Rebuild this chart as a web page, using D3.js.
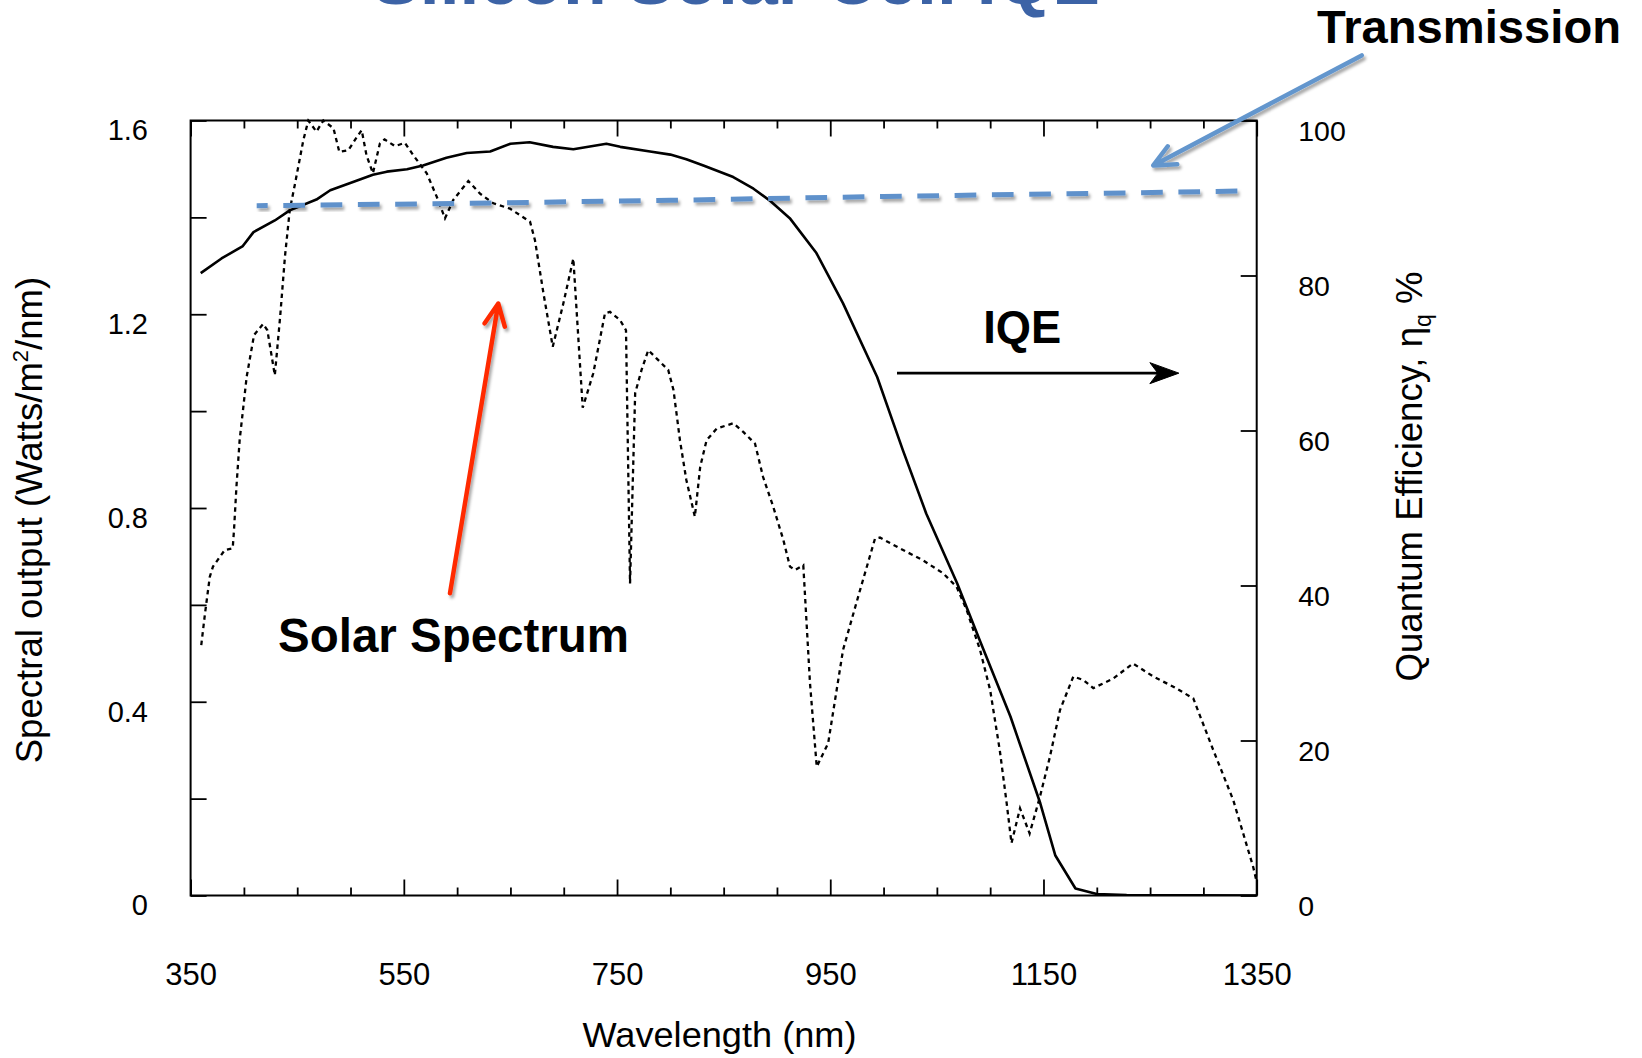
<!DOCTYPE html>
<html>
<head>
<meta charset="utf-8">
<script src="https://cdn.jsdelivr.net/npm/d3@7"></script>
<style>
  html, body { margin: 0; padding: 0; background: #fff; }
  svg { display: block; }
  text { font-family: "Liberation Sans", Arial, Helvetica, sans-serif; }
</style>
</head>
<body>
<svg id="chart" width="1642" height="1058"></svg>
<script>
// ---------------- DATA ----------------
const wavelengthMajorTicks = [350, 550, 750, 950, 1150, 1350];
const wavelengthMinorTicks = [400, 450, 500, 600, 650, 700, 800, 850, 900, 1000, 1050, 1100, 1200, 1250, 1300];
const spectralTicks = [0, 0.2, 0.4, 0.6, 0.8, 1.0, 1.2, 1.4, 1.6];
const spectralTickLabels = ["0", "", "0.4", "", "0.8", "", "1.2", "", "1.6"];
const qeTicks = [0, 20, 40, 60, 80, 100];
const qeTickLabels = ["0", "20", "40", "60", "80", "100"];

// Solar spectrum (W/m^2/nm), dotted line, left axis
const solarWavelength = [360, 363.5, 368, 371, 382, 389.5, 390.7, 393, 396, 402.6, 409.5, 418, 422, 429, 434, 438.5,
  443, 448, 455.7, 460.4, 468, 474.5, 484, 489.5, 498, 506, 510.5, 515, 521, 527.6, 532, 541.7, 551, 559, 571.5,
  581, 588.6, 596.4, 610.5, 621.5, 634, 649.6, 668.4, 673, 681, 689.7, 699.6, 709, 717.8, 727.7, 738.7, 743.4,
  752.8, 758.4, 762.2, 765.3, 767, 773, 779.3, 787, 798, 803, 809, 815, 823, 828, 834, 843.5, 859, 868.4, 879.4,
  887, 896.6, 906, 912.2, 917, 924.7, 931, 937.3, 948, 962, 978, 992, 996.6, 1015, 1037, 1056, 1068.6, 1078,
  1090.5, 1100, 1109, 1115.5, 1120, 1128, 1137, 1146.7, 1156, 1165.5, 1178, 1187.4, 1196.7, 1215.5, 1234, 1253,
  1271.8, 1290.5, 1309.3, 1328, 1346.7, 1350];
const solarIrradiance = [0.517, 0.582, 0.658, 0.679, 0.713, 0.717, 0.754, 0.844, 0.940, 1.071, 1.157, 1.180, 1.167,
  1.074, 1.195, 1.319, 1.415, 1.470, 1.559, 1.600, 1.577, 1.600, 1.584, 1.535, 1.539, 1.566, 1.580, 1.528, 1.491,
  1.553, 1.561, 1.547, 1.554, 1.528, 1.491, 1.442, 1.398, 1.436, 1.475, 1.449, 1.429, 1.418, 1.391, 1.353, 1.243,
  1.133, 1.222, 1.315, 1.007, 1.078, 1.202, 1.205, 1.188, 1.167, 0.644, 0.899, 1.037, 1.085, 1.126, 1.109, 1.085,
  1.043, 0.940, 0.858, 0.782, 0.885, 0.940, 0.964, 0.975, 0.957, 0.933, 0.864, 0.802, 0.734, 0.679, 0.672, 0.682,
  0.438, 0.266, 0.314, 0.507, 0.631, 0.737, 0.739, 0.717, 0.692, 0.665, 0.637, 0.589, 0.507, 0.424, 0.300, 0.190,
  0.108, 0.180, 0.128, 0.204, 0.286, 0.383, 0.452, 0.445, 0.428, 0.448, 0.479, 0.452, 0.431, 0.407, 0.300, 0.197,
  0.059, 0.028];

// Internal quantum efficiency (%), solid line, right axis
const iqeWavelength = [359.5, 379, 399, 409, 429, 443, 468, 481, 503, 521, 534, 553, 568, 590, 609, 631, 650, 668,
  690, 709, 740, 753, 781, 800, 815, 831, 859, 878, 893, 912, 937, 962, 994, 1018, 1040, 1069, 1090, 1119, 1147,
  1161, 1180, 1200, 1228, 1350];
const iqePercent = [80.3, 82.2, 83.8, 85.6, 87.1, 88.4, 89.8, 91.0, 92.1, 93.0, 93.4, 93.7, 94.2, 95.2, 95.8, 96.0,
  97.0, 97.2, 96.6, 96.3, 97.0, 96.6, 96.0, 95.6, 95.0, 94.2, 92.7, 91.2, 89.7, 87.4, 82.9, 76.4, 66.9, 57.5, 49.3,
  40.3, 33.0, 23.1, 11.9, 5.2, 0.9, 0.2, 0.05, 0];

// Transmission (%), blue dashed line, right axis
const transmissionWavelength = [412, 600, 800, 1000, 1200, 1336];
const transmissionPercent = [89.0, 89.3, 89.7, 90.2, 90.6, 90.9];

// ---------------- CHART ----------------
const svg = d3.select("#chart");
const PL = 190.6, PR = 1256.7, PT = 120.5, PB = 895.5;

const x = d3.scaleLinear().domain([350, 1350]).range([PL, PR]);
const yL = d3.scaleLinear().domain([0, 1.6]).range([PB, PT]);
const yR = d3.scaleLinear().domain([0, 100]).range([PB, PT]);

const defs = svg.append("defs");
const sh = defs.append("filter").attr("id", "shadow")
  .attr("x", "-20%").attr("y", "-20%").attr("width", "140%").attr("height", "160%");
sh.append("feDropShadow").attr("dx", 2).attr("dy", 3).attr("stdDeviation", 1.8)
  .attr("flood-color", "#000").attr("flood-opacity", 0.35);

// Title (mostly cut off at the top, as in the original slide)
svg.append("text")
  .attr("x", 736).attr("y", 4)
  .attr("text-anchor", "middle")
  .attr("font-size", 70).attr("font-weight", "bold")
  .attr("fill", "#3c63a6")
  .attr("textLength", 728).attr("lengthAdjust", "spacingAndGlyphs")
  .text("Silicon Solar Cell IQE");

// axes
function styleAxis(g) {
  g.select(".domain").remove();
  g.selectAll(".tick line").attr("stroke", "#000").attr("stroke-width", 1.8);
}

// bottom
svg.append("g").attr("transform", `translate(0,${PB})`)
  .call(d3.axisBottom(x).tickValues(wavelengthMinorTicks).tickSize(-8).tickFormat(""))
  .call(styleAxis);
svg.append("g").attr("transform", `translate(0,${PB})`)
  .call(d3.axisBottom(x).tickValues(wavelengthMajorTicks).tickSize(-16).tickPadding(67).tickFormat(d3.format("d")))
  .call(styleAxis)
  .call(g => g.selectAll("text").attr("font-size", 31).attr("fill", "#000")
    .attr("font-family", "'Liberation Sans', Arial, sans-serif"));
// top
svg.append("g").attr("transform", `translate(0,${PT})`)
  .call(d3.axisTop(x).tickValues(wavelengthMinorTicks).tickSize(-8).tickFormat(""))
  .call(styleAxis);
svg.append("g").attr("transform", `translate(0,${PT})`)
  .call(d3.axisTop(x).tickValues(wavelengthMajorTicks).tickSize(-16).tickFormat(""))
  .call(styleAxis);
// left
svg.append("g").attr("transform", `translate(${PL},0)`)
  .call(d3.axisLeft(yL).tickValues(spectralTicks).tickSize(-16).tickPadding(42.6)
    .tickFormat((d, i) => spectralTickLabels[i]))
  .call(styleAxis)
  .call(g => g.selectAll("text").attr("font-size", 29).attr("fill", "#000").attr("y", 10)
    .attr("font-family", "'Liberation Sans', Arial, sans-serif"));
// right
svg.append("g").attr("transform", `translate(${PR},0)`)
  .call(d3.axisRight(yR).tickValues(qeTicks).tickSize(-16).tickPadding(41.5)
    .tickFormat((d, i) => qeTickLabels[i]))
  .call(styleAxis)
  .call(g => g.selectAll("text").attr("font-size", 28.5).attr("fill", "#000").attr("y", 11)
    .attr("font-family", "'Liberation Sans', Arial, sans-serif"));

// frame
svg.append("rect").attr("x", PL).attr("y", PT).attr("width", PR - PL).attr("height", PB - PT)
  .attr("fill", "none").attr("stroke", "#000").attr("stroke-width", 2);

// clip
defs.append("clipPath").attr("id", "plotclip").append("rect")
  .attr("x", PL).attr("y", PT - 2).attr("width", PR - PL).attr("height", PB - PT + 2);

const plot = svg.append("g").attr("clip-path", "url(#plotclip)");

// solar spectrum
const solarData = solarWavelength.map((w, i) => [w, solarIrradiance[i]]);
plot.append("path")
  .datum(solarData)
  .attr("fill", "none").attr("stroke", "#000").attr("stroke-width", 2.3)
  .attr("stroke-dasharray", "4.5,4")
  .attr("d", d3.line().x(d => x(d[0])).y(d => yL(d[1])));

// IQE
const iqeData = iqeWavelength.map((w, i) => [w, iqePercent[i]]);
plot.append("path")
  .datum(iqeData)
  .attr("fill", "none").attr("stroke", "#000").attr("stroke-width", 2.6)
  .attr("stroke-linejoin", "round")
  .attr("d", d3.line().x(d => x(d[0])).y(d => yR(d[1])));

// transmission
const trData = transmissionWavelength.map((w, i) => [w, transmissionPercent[i]]);
svg.append("path")
  .datum(trData)
  .attr("fill", "none").attr("stroke", "#5f91cb").attr("stroke-width", 5)
  .attr("stroke-dasharray", "21.7,15.6").attr("stroke-dashoffset", 10.7)
  .attr("filter", "url(#shadow)")
  .attr("d", d3.line().x(d => x(d[0])).y(d => yR(d[1])));

// annotations (positioned through the scales)
function vArrow(x1, y1, x2, y2, len, ang) {
  const a = Math.atan2(y1 - y2, x1 - x2);
  const p1 = [x2 + len * Math.cos(a + ang), y2 + len * Math.sin(a + ang)];
  const p2 = [x2 + len * Math.cos(a - ang), y2 + len * Math.sin(a - ang)];
  return `M${x1},${y1}L${x2},${y2}M${p1[0]},${p1[1]}L${x2},${y2}L${p2[0]},${p2[1]}`;
}

// Transmission label + blue arrow
svg.append("text")
  .attr("x", x(1406.6)).attr("y", yR(110))
  .attr("font-size", 47).attr("font-weight", "bold").attr("fill", "#000")
  .attr("textLength", 304).attr("lengthAdjust", "spacingAndGlyphs")
  .text("Transmission");
svg.append("path")
  .attr("d", vArrow(x(1448.5), yR(108.4), x(1253), yR(94.2), 24, 0.44))
  .attr("fill", "none").attr("stroke", "#6496cd").attr("stroke-width", 4.5)
  .attr("stroke-linecap", "round").attr("stroke-linejoin", "round")
  .attr("filter", "url(#shadow)");

// Solar Spectrum label + red arrow
svg.append("text")
  .attr("x", x(432)).attr("y", yL(0.503))
  .attr("font-size", 48).attr("font-weight", "bold").attr("fill", "#000")
  .attr("textLength", 351).attr("lengthAdjust", "spacingAndGlyphs")
  .text("Solar Spectrum");
svg.append("path")
  .attr("d", vArrow(x(593.3), yL(0.624), x(638.6), yL(1.222), 24, 0.44))
  .attr("fill", "none").attr("stroke", "#ff2a00").attr("stroke-width", 4.5)
  .attr("stroke-linecap", "round").attr("stroke-linejoin", "round")
  .attr("filter", "url(#shadow)");

// IQE label + arrow
svg.append("text")
  .attr("x", x(1130)).attr("y", yR(71.3))
  .attr("text-anchor", "middle")
  .attr("font-size", 46).attr("font-weight", "bold").attr("fill", "#000")
  .attr("textLength", 78).attr("lengthAdjust", "spacingAndGlyphs")
  .text("IQE");
{
  const x1 = x(1012.6), x2 = x(1277), yy = yR(67.4);
  svg.append("line").attr("x1", x1).attr("x2", x2 - 6).attr("y1", yy).attr("y2", yy)
    .attr("stroke", "#000").attr("stroke-width", 2.6);
  svg.append("path")
    .attr("d", `M${x2},${yy}L${x2 - 29},${yy - 10.5}L${x2 - 21},${yy}L${x2 - 29},${yy + 10.5}Z`)
    .attr("fill", "#000").attr("stroke", "#000").attr("stroke-width", 1).attr("stroke-linejoin", "round");
}

// axis titles
svg.append("text")
  .attr("x", 719.5).attr("y", 1047)
  .attr("text-anchor", "middle")
  .attr("font-size", 35).attr("fill", "#000")
  .attr("textLength", 274).attr("lengthAdjust", "spacingAndGlyphs")
  .text("Wavelength (nm)");

const lt = svg.append("text")
  .attr("transform", "translate(42,520) rotate(-90)")
  .attr("text-anchor", "middle")
  .attr("font-size", 36.6).attr("fill", "#000");
lt.append("tspan").text("Spectral output (Watts/m");
lt.append("tspan").attr("font-size", 22).attr("dy", -14).text("2");
lt.append("tspan").attr("dy", 14).text("/nm)");

const rt = svg.append("text")
  .attr("transform", "translate(1422,476.5) rotate(-90)")
  .attr("text-anchor", "middle")
  .attr("font-size", 36.6).attr("fill", "#000");
rt.append("tspan").text("Quantum Efficiency, η");
rt.append("tspan").attr("font-size", 23).attr("dy", 9).text("q");
rt.append("tspan").attr("dy", -9).text(" %");
</script>
</body>
</html>
